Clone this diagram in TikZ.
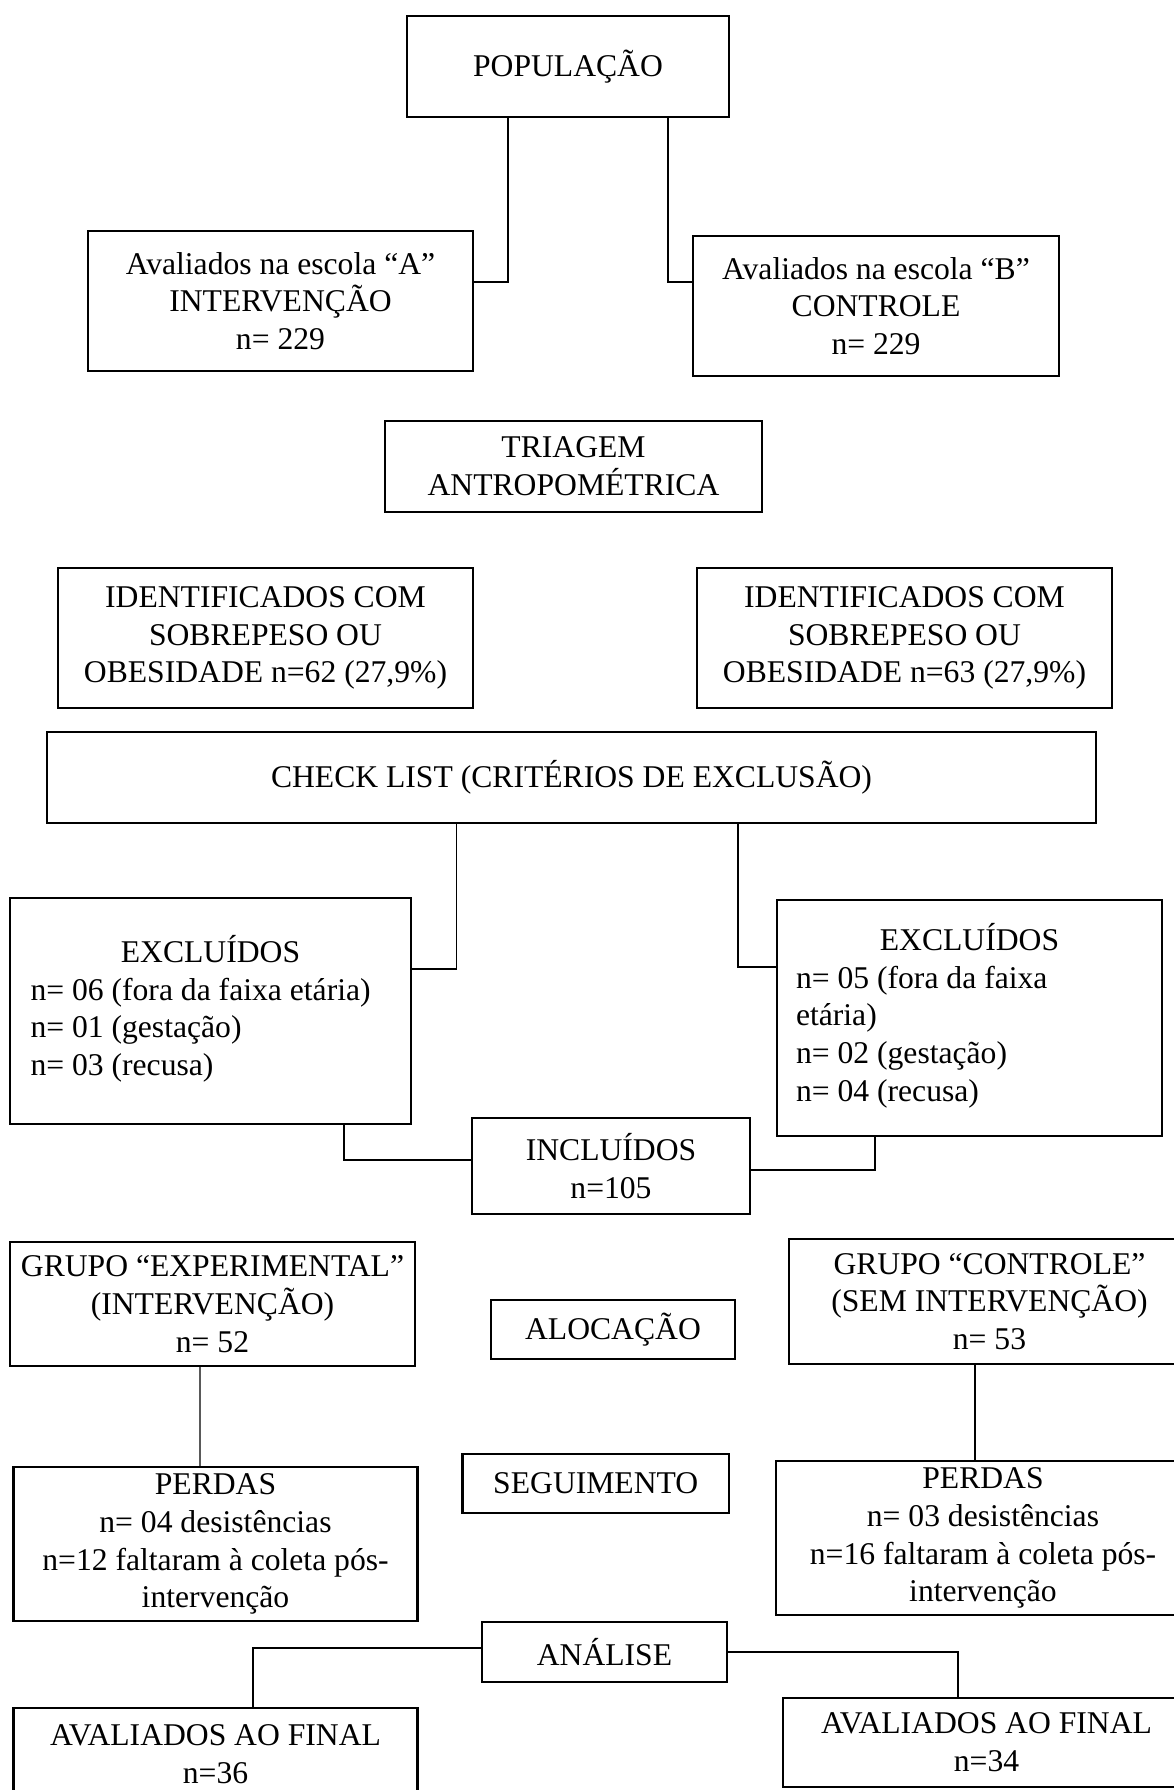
\documentclass[tikz,border=0pt]{standalone}
\usepackage{fontspec}
\setmainfont{Liberation Serif}
\usepackage{array}
\usepackage{tikz}
\usetikzlibrary{positioning,calc}

\tikzset{
  box/.style n args={2}{draw, line width=1.4pt, align=center, inner sep=0pt,
    minimum width=#1cm, minimum height=#2cm},
  link/.style={line width=0.7pt}
}
% excluded list: centred title, then left lines
\newcommand{\exclist}[2]{\begin{tabular}{@{}p{#1}@{}}\multicolumn{1}{@{}c@{}}{EXCLUÍDOS}\\#2\end{tabular}}

\begin{document}
\begin{tikzpicture}[font=\fontsize{18}{21.5}\selectfont]
    \useasboundingbox (0,0) rectangle (23.48,-35.8);

    \node [box={6.44}{2.02}] (pop) at (11.36,-1.33) {POPULAÇÃO};
    \node [box={7.70}{2.80}] (escA) at (5.61,-6.02) {Avaliados na escola “A”\\INTERVENÇÃO\\n= 229};
    \node [box={7.32}{2.80}] (escB) at (17.52,-6.12) {Avaliados na escola “B”\\CONTROLE\\n= 229};
    \node [box={7.54}{1.82}] (triag) at (11.47,-9.33) {TRIAGEM\\ANTROPOMÉTRICA};
    \node [box={8.30}{2.80}] (identA) at (5.31,-12.76) {IDENTIFICADOS COM\\SOBREPESO OU\\OBESIDADE n=62 (27,9\%)};
    \node [box={8.30}{2.80}] (identB) at (18.09,-12.76) {IDENTIFICADOS COM\\SOBREPESO OU\\OBESIDADE n=63 (27,9\%)};
    \node [box={20.98}{1.82}] (check) at (11.43,-15.55) {CHECK LIST (CRITÉRIOS DE EXCLUSÃO)};

    \node [box={8.02}{4.52}] (exclA) at (4.21,-20.22) {\exclist{7.20cm}{n= 06 (fora da faixa etária)\\n= 01 (gestação)\\n= 03 (recusa)}};
    \node [box={7.70}{4.72}] (exclB) at (19.39,-20.36) {\exclist{6.94cm}{n= 05 (fora da faixa\\etária)\\n= 02 (gestação)\\n= 04 (recusa)}};
    \node [box={5.56}{1.92}] (incl) at (12.22,-23.32) {INCLUÍDOS\\n=105};

    \node [box={8.10}{2.48}] (grpA) at (4.25,-26.08) {GRUPO “EXPERIMENTAL”\\(INTERVENÇÃO)\\n= 52};
    \node [box={4.88}{1.18}] (aloc) at (12.26,-26.59) {ALOCAÇÃO};
    \node [box={8.02}{2.50}] (grpB) at (19.79,-26.03) {GRUPO “CONTROLE”\\(SEM INTERVENÇÃO)\\n= 53};

    \node [box={8.08}{3.08}] (perdA) at (4.31,-30.88) {PERDAS\\n= 04 desistências\\n=12 faltaram à coleta pós-\\intervenção};
    \node [box={5.33}{1.18}] (segu) at (11.915,-29.67) {SEGUIMENTO};
    \node [box={8.28}{3.08}] (perdB) at (19.66,-30.76) {PERDAS\\n= 03 desistências\\n=16 faltaram à coleta pós-\\intervenção};

    \node [box={4.90}{1.20}] (anal) at (12.09,-33.04) {ANÁLISE};
    \node [box={8.08}{1.84}] (avalA) at (4.31,-35.08) {AVALIADOS AO FINAL\\n=36};
    \node [box={8.14}{1.78}] (avalB) at (19.73,-34.85) {AVALIADOS AO FINAL\\n=34};

    \draw [link] ([xshift=-1.2cm]pop.south) |- ([yshift=0.38cm]escA.east);
    \draw [link] ([xshift=2cm]pop.south) |- ([yshift=0.48cm]escB.west);
    \draw [link] ([xshift=-2.3cm]check.south) |- ([yshift=0.84cm]exclA.east);
    \draw [link] ([xshift=3.33cm]check.south) |- ([yshift=1.02cm]exclB.west);
    \draw [link] ([xshift=2.67cm]exclA.south) |- ([yshift=0.12cm]incl.west);
    \draw [link] ([xshift=-1.89cm]exclB.south) |- ([yshift=-0.08cm]incl.east);
    \draw [link] ([xshift=-0.25cm]grpA.south) -- ([xshift=-0.31cm]perdA.north);
    \draw [link] ([xshift=-0.29cm]grpB.south) -- ([xshift=-0.16cm]perdB.north);
    \draw [link] ([yshift=0.08cm]anal.west) -| ([xshift=0.75cm]avalA.north);
    \draw [link] (anal.east) -| ([xshift=-0.57cm]avalB.north); % analise
\end{tikzpicture}
\end{document}
